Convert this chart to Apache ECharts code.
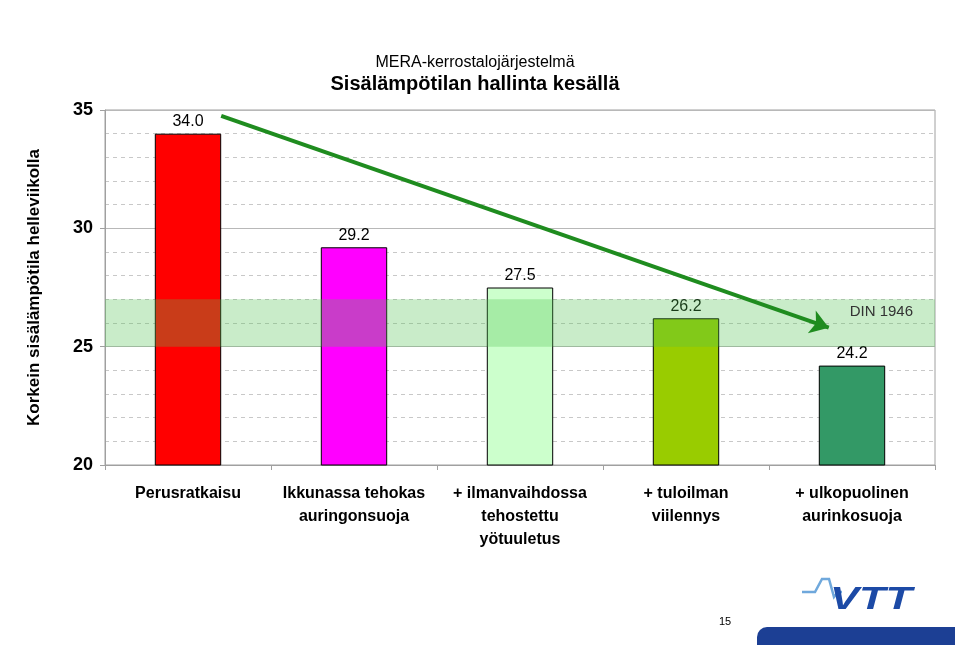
<!DOCTYPE html>
<html>
<head>
<meta charset="utf-8">
<script src="https://cdn.jsdelivr.net/npm/echarts@6/dist/echarts.min.js"></script>
<style>
html,body{margin:0;padding:0;background:#fff;}
#main{width:960px;height:645px;}
</style>
</head>
<body>
<div id="main"></div>
<script>
// ---- data ----
const categories = [
  'Perusratkaisu',
  'Ikkunassa tehokas\nauringonsuoja',
  '+ ilmanvaihdossa\ntehostettu\nyötuuletus',
  '+ tuloilman\nviilennys',
  '+ ulkopuolinen\naurinkosuoja'
];
const values = [34.0, 29.2, 27.5, 26.2, 24.2];
const barColors = ['#FF0000', '#FF00FF', '#CCFFCC', '#99CC00', '#339966'];
const yTicks = [20, 25, 30, 35];
const bandRange = [25, 27];
const bandLabel = 'DIN 1946';
const arrowStart = [0.70, 34.75];
const arrowEnd = [4.36, 25.8];
const titleLines = ['MERA-kerrostalojärjestelmä', 'Sisälämpötilan hallinta kesällä'];
const yName = 'Korkein sisälämpötila helleviikolla';
const pageNumber = '15';

const FONT = '"Liberation Sans", Arial, sans-serif';
const chart = echarts.init(document.getElementById('main'), null, {renderer: 'canvas'});

const option = {
  backgroundColor: '#fff',
  animation: false,
  textStyle: {fontFamily: FONT},
  title: [
    {text: titleLines[0], left: 470, top: 50, textAlign: 'center',
     textStyle: {fontFamily: FONT, fontSize: 16, fontWeight: 'normal', color: '#000'}},
    {text: titleLines[1], left: 470, top: 69, textAlign: 'center',
     textStyle: {fontFamily: FONT, fontSize: 20, fontWeight: 'bold', color: '#000'}}
  ],
  grid: {left: 105, right: 25, top: 110, bottom: 180, show: true, borderColor: '#a0a0a0', borderWidth: 1},
  xAxis: [
    {
      type: 'category', data: categories,
      axisLine: {lineStyle: {color: '#a0a0a0'}},
      axisTick: {show: true, length: 5, lineStyle: {color: '#a0a0a0'}},
      axisLabel: {interval: 0, fontFamily: FONT, fontSize: 16, fontWeight: 'bold', color: '#000',
                  lineHeight: 23, margin: 17}
    },
    {type: 'value', min: 0, max: 5, show: false}
  ],
  yAxis: {
    type: 'value', min: yTicks[0], max: yTicks[yTicks.length - 1], interval: 5,
    name: yName, nameLocation: 'middle', nameRotate: 90, nameGap: 62,
    nameTextStyle: {fontFamily: FONT, fontSize: 17, fontWeight: 'bold', color: '#000'},
    axisLine: {show: true, lineStyle: {color: '#a0a0a0'}},
    axisTick: {show: true, length: 5, lineStyle: {color: '#a0a0a0'}},
    axisLabel: {fontFamily: FONT, fontSize: 18, fontWeight: 'bold', color: '#000', margin: 12},
    splitLine: {show: true, lineStyle: {color: '#b8b8b8', width: 1}},
    minorTick: {show: false, splitNumber: 5},
    minorSplitLine: {show: true, lineStyle: {color: '#c8c8c8', type: [4, 4], width: 1}}
  },
  series: [
    {
      type: 'bar',
      barWidth: '40%',
      data: values.map((v, i) => ({value: v, itemStyle: {color: barColors[i]}})),
      itemStyle: {borderColor: '#000', borderWidth: 1},
      label: {show: true, position: 'top', distance: 4, fontFamily: FONT, fontSize: 16,
              color: '#000', formatter: p => p.value.toFixed(1)},
      z: 2
    },
    {
      type: 'line', data: [], z: 5, silent: true,
      markArea: {
        silent: true, z: 10,
        itemStyle: {color: 'rgba(80,193,80,0.31)'},
        label: {show: true, position: 'insideTopRight', distance: 5, offset: [-17, 0],
                fontFamily: FONT, fontSize: 15, color: '#333'},
        data: [[{yAxis: bandRange[0], name: bandLabel}, {yAxis: bandRange[1]}]]
      }
    },
    {
      type: 'line', data: [], xAxisIndex: 1, z: 6, silent: true,
      markLine: {
        silent: true, z: 12,
        symbol: ['none', 'arrow'], symbolSize: 18,
        label: {show: false},
        lineStyle: {color: '#1f8c1f', width: 4, type: 'solid'},
        data: [[{coord: arrowStart}, {coord: arrowEnd}]]
      }
    }
  ],
  graphic: [
    {type: 'text', left: 719, top: 616, style: {text: pageNumber, font: '11px ' + FONT, fill: '#000'}},
    {type: 'rect', shape: {x: 757, y: 627, width: 198, height: 20, r: [10, 0, 0, 0]}, style: {fill: '#1c3f94'}},
    {type: 'polyline', shape: {points: [[802, 592], [815, 592], [822, 579], [829, 579], [834, 597], [838, 592], [842, 592]]},
     style: {stroke: '#6fa8dc', lineWidth: 2.5, fill: null}},
    {type: 'text', x: 830, y: 585, scaleX: 1.4, style: {text: 'VTT', font: 'italic 900 31px ' + FONT, fill: '#1c4aa6'}}
  ]
};
chart.setOption(option);
</script>
</body>
</html>
